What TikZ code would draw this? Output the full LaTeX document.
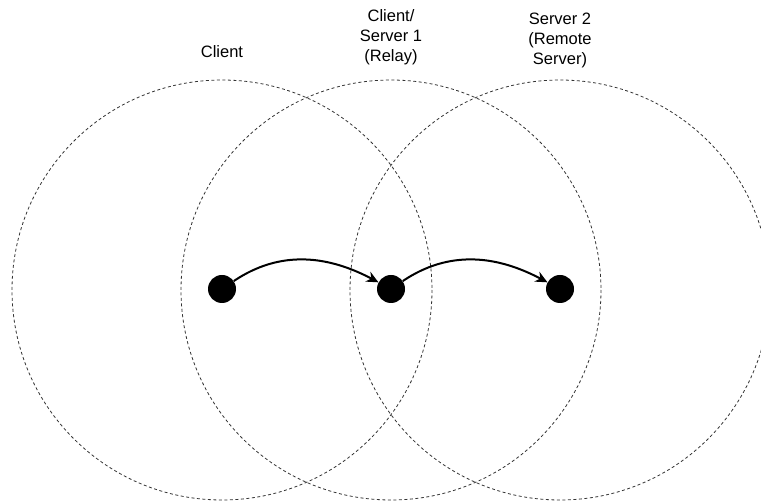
\documentclass[tikz,border=0pt]{standalone}
\usepackage{fontspec}
\setmainfont{Liberation Sans}
\usetikzlibrary{arrows.meta}
\begin{document}
\begin{tikzpicture}[x=1pt,y=-1pt,
  zone/.style={draw=black!80, line width=0.8pt, dash pattern=on 3pt off 2.5pt},
  peer/.style={circle, fill=black, inner sep=0pt, minimum size=28pt},
  hop/.style={line width=2pt, -{Stealth[length=12pt,width=11pt,inset=4pt]}},
  tag/.style={align=center, inner sep=0pt, font=\fontsize{16.5}{20}\selectfont}]
  \useasboundingbox (0,0) rectangle (761,502);
  \clip (0,0) rectangle (761,502);
  % reach of each host
  \draw[zone] (222,290) circle[radius=210];
  \draw[zone] (391,290) circle[radius=210];
  \draw[zone] (560,290) circle[radius=210];
  % hosts
  \node[peer] (client) at (222,289) {};
  \node[peer] (relay) at (391,289) {};
  \node[peer] (remote) at (560,289) {};
  % labels
  \node[tag] (lclient) at (222,52) {Client};
  \node[tag] (lrelay) at (391,37) {Client/\\Server 1\\(Relay)};
  \node[tag] (lremote) at (560,40) {Server 2\\(Remote\\Server)};
  % hops
  \draw[hop] (client) to[out=34, in=152] (relay);
  \draw[hop] (relay) to[out=34, in=152] (remote);
\end{tikzpicture}
\end{document}
